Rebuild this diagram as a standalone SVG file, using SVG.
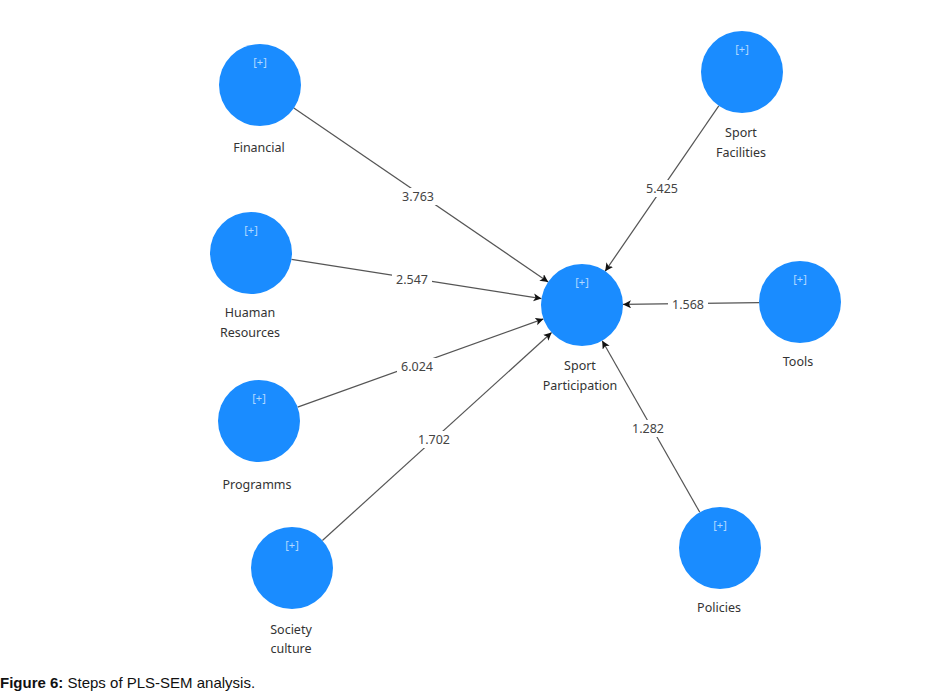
<svg xmlns="http://www.w3.org/2000/svg" width="929" height="698" viewBox="0 0 929 698">
<defs>
<style>
.node{fill:#1a8cff;}
.plus{font-family:"Noto Sans","Open Sans",sans-serif;font-size:11px;fill:#b3d9ff;text-anchor:middle;}
.lbl{font-family:"Noto Sans","Open Sans",sans-serif;font-size:12.5px;fill:#333;text-anchor:middle;}
.edge{stroke:#555;stroke-width:1.2;fill:none;marker-end:url(#arr);}
.el{font-family:"Noto Sans","Open Sans",sans-serif;font-size:12.5px;fill:#444;text-anchor:middle;}
.bg{fill:#fff;}
.cap{font-family:"Liberation Sans",Arial,sans-serif;font-size:15px;fill:#111;}
</style>
<marker id="arr" markerUnits="userSpaceOnUse" markerWidth="10" markerHeight="10" refX="8" refY="4" orient="auto">
<path d="M0,0 L8,4 L0,8 L2,4 Z" fill="#111"/>
</marker>
</defs>
<rect width="929" height="698" fill="#fff"/>
<g id="connectors">
<line class="edge" x1="293.8" y1="108.1" x2="548.2" y2="281.9"/>
<line class="edge" x1="291.5" y1="259.4" x2="541.5" y2="298.6"/>
<line class="edge" x1="297.6" y1="407.1" x2="543.4" y2="318.9"/>
<line class="edge" x1="322.4" y1="540.5" x2="551.6" y2="332.5"/>
<line class="edge" x1="718.8" y1="105.8" x2="605.2" y2="271.2"/>
<line class="edge" x1="759" y1="302.6" x2="623" y2="304.4"/>
<line class="edge" x1="699.8" y1="512.3" x2="602.2" y2="340.7"/>
<rect class="bg" x="398" y="188" width="40" height="17"/>
<text class="el" x="418" y="201">3.763</text>
<rect class="bg" x="392" y="271" width="40" height="17"/>
<text class="el" x="412" y="284">2.547</text>
<rect class="bg" x="397" y="358" width="40" height="17"/>
<text class="el" x="417" y="371">6.024</text>
<rect class="bg" x="414" y="431" width="40" height="17"/>
<text class="el" x="434" y="444">1.702</text>
<rect class="bg" x="642" y="180" width="40" height="17"/>
<text class="el" x="662" y="193">5.425</text>
<rect class="bg" x="668" y="296" width="40" height="17"/>
<text class="el" x="688" y="309">1.568</text>
<rect class="bg" x="628" y="420" width="40" height="17"/>
<text class="el" x="648" y="433">1.282</text>
</g>
<g id="financial">
<circle class="node" cx="260" cy="85" r="41"/>
<text class="plus" x="260" y="66">[+]</text>
<text class="lbl" x="259" y="152">Financial</text>
</g>
<g id="human-resources">
<circle class="node" cx="251" cy="253" r="41"/>
<text class="plus" x="251" y="234">[+]</text>
<text class="lbl" x="250" y="317">Huaman</text>
<text class="lbl" x="250" y="337">Resources</text>
</g>
<g id="programms">
<circle class="node" cx="259" cy="421" r="41"/>
<text class="plus" x="259" y="402">[+]</text>
<text class="lbl" x="257" y="489">Programms</text>
</g>
<g id="society-culture">
<circle class="node" cx="292" cy="568" r="41"/>
<text class="plus" x="292" y="549">[+]</text>
<text class="lbl" x="291" y="634">Society</text>
<text class="lbl" x="291" y="653">culture</text>
</g>
<g id="sport-facilities">
<circle class="node" cx="742" cy="72" r="41"/>
<text class="plus" x="742" y="53">[+]</text>
<text class="lbl" x="741" y="137">Sport</text>
<text class="lbl" x="741" y="157">Facilities</text>
</g>
<g id="tools">
<circle class="node" cx="800" cy="302" r="41"/>
<text class="plus" x="800" y="283">[+]</text>
<text class="lbl" x="798" y="366">Tools</text>
</g>
<g id="policies">
<circle class="node" cx="720" cy="548" r="41"/>
<text class="plus" x="720" y="529">[+]</text>
<text class="lbl" x="719" y="612">Policies</text>
</g>
<g id="sport-participation">
<circle class="node" cx="582" cy="305" r="41"/>
<text class="plus" x="582" y="286">[+]</text>
<text class="lbl" x="580" y="370">Sport</text>
<text class="lbl" x="580" y="390">Participation</text>
</g>
<text class="cap" x="0" y="688"><tspan font-weight="bold">Figure 6:</tspan> Steps of PLS-SEM analysis.</text>
</svg>
